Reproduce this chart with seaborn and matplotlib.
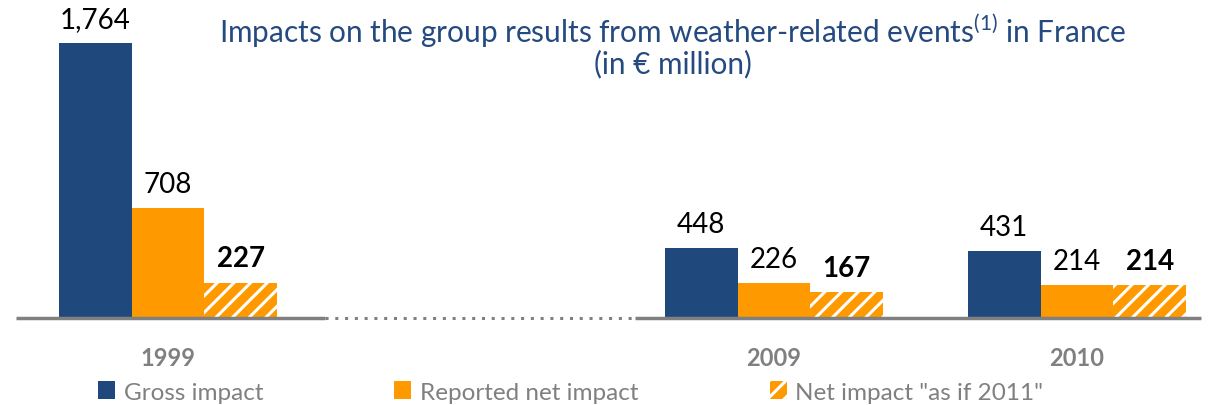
import matplotlib
matplotlib.use("Agg")
import matplotlib.pyplot as plt
from matplotlib.patches import Patch
import seaborn as sns
import pandas as pd

years = ["1999", "2009", "2010"]
gross = [1764, 448, 431]
reported = [708, 226, 214]
net_2011 = [227, 167, 214]
series = ["Gross impact", "Reported net impact", 'Net impact "as if 2011"']
order = ["1999", " ", "2009", "2010"]

NAVY = "#1F497D"
ORANGE = "#FF9900"
GREY = "#808080"

sns.set_theme(style="white")
plt.rcParams["font.family"] = ["Lato", "DejaVu Sans"]
plt.rcParams["mathtext.fontset"] = "custom"
plt.rcParams["mathtext.rm"] = "Lato"
plt.rcParams["hatch.linewidth"] = 2.2

rows = []
for s, vals in zip(series, [gross, reported, net_2011]):
    for y, v in zip(years, vals):
        rows.append({"year": y, "series": s, "value": v})
df = pd.DataFrame(rows)

fig = plt.figure(figsize=(12.13, 4.06), dpi=100)
ax = fig.add_axes([0, 87 / 406, 1, 319 / 406])

sns.barplot(data=df, x="year", y="value", hue="series", order=order,
            hue_order=series, palette=[NAVY, ORANGE, ORANGE], width=0.72,
            saturation=1, ax=ax, legend=False, linewidth=0)

for c in ax.containers:
    for bar in c:
        bar.set_linewidth(0)
for bar in ax.containers[2]:
    bar.set_hatch("//")
    bar.set_edgecolor("white")

for i, c in enumerate(ax.containers):
    ax.bar_label(c, fmt="{:,.0f}", padding=8, fontsize=20, color="black",
                 fontweight="bold" if i == 2 else "normal")

ax.set_xlim(-0.554, 3.449)
ax.set_ylim(0, 2046)
ax.set_yticks([])
ax.set_xlabel("")
ax.set_ylabel("")
for s in ax.spines.values():
    s.set_visible(False)
ax.tick_params(axis="x", length=0, pad=20)
for lbl in ax.get_xticklabels():
    lbl.set_fontweight("bold")
    lbl.set_color(GREY)
    lbl.set_fontsize(17)

ax.hlines(0, -0.5, 0.52, color=GREY, lw=2.5, clip_on=False, zorder=3)
ax.hlines(0, 0.52, 1.54, color=GREY, lw=2.2, linestyles=(0, (1, 2.2)), clip_on=False, zorder=3)
ax.hlines(0, 1.54, 3.41, color=GREY, lw=2.5, clip_on=False, zorder=3)

fig.text(0.555, 0.925, r"Impacts on the group results from weather-related events$^{\mathrm{(1)}}$ in France",
         ha="center", va="center", fontsize=21.4, color="#254A7F")
fig.text(0.555, 0.843, "(in € million)", ha="center", va="center", fontsize=21.4, color="#254A7F")

handles = [Patch(facecolor=NAVY, edgecolor=NAVY, lw=0),
           Patch(facecolor=ORANGE, edgecolor=ORANGE, lw=0),
           Patch(facecolor=ORANGE, edgecolor="white", lw=0, hatch="//")]
leg = fig.legend(handles, series, loc="center left", bbox_to_anchor=(98 / 1213, 13 / 406),
                 ncol=3, frameon=False, fontsize=17.5, handlelength=0.7, handleheight=0.7,
                 handletextpad=0.35, columnspacing=5.4, borderaxespad=0, borderpad=0)
for t in leg.get_texts():
    t.set_color(GREY)

fig.savefig("out.png", dpi=100)
